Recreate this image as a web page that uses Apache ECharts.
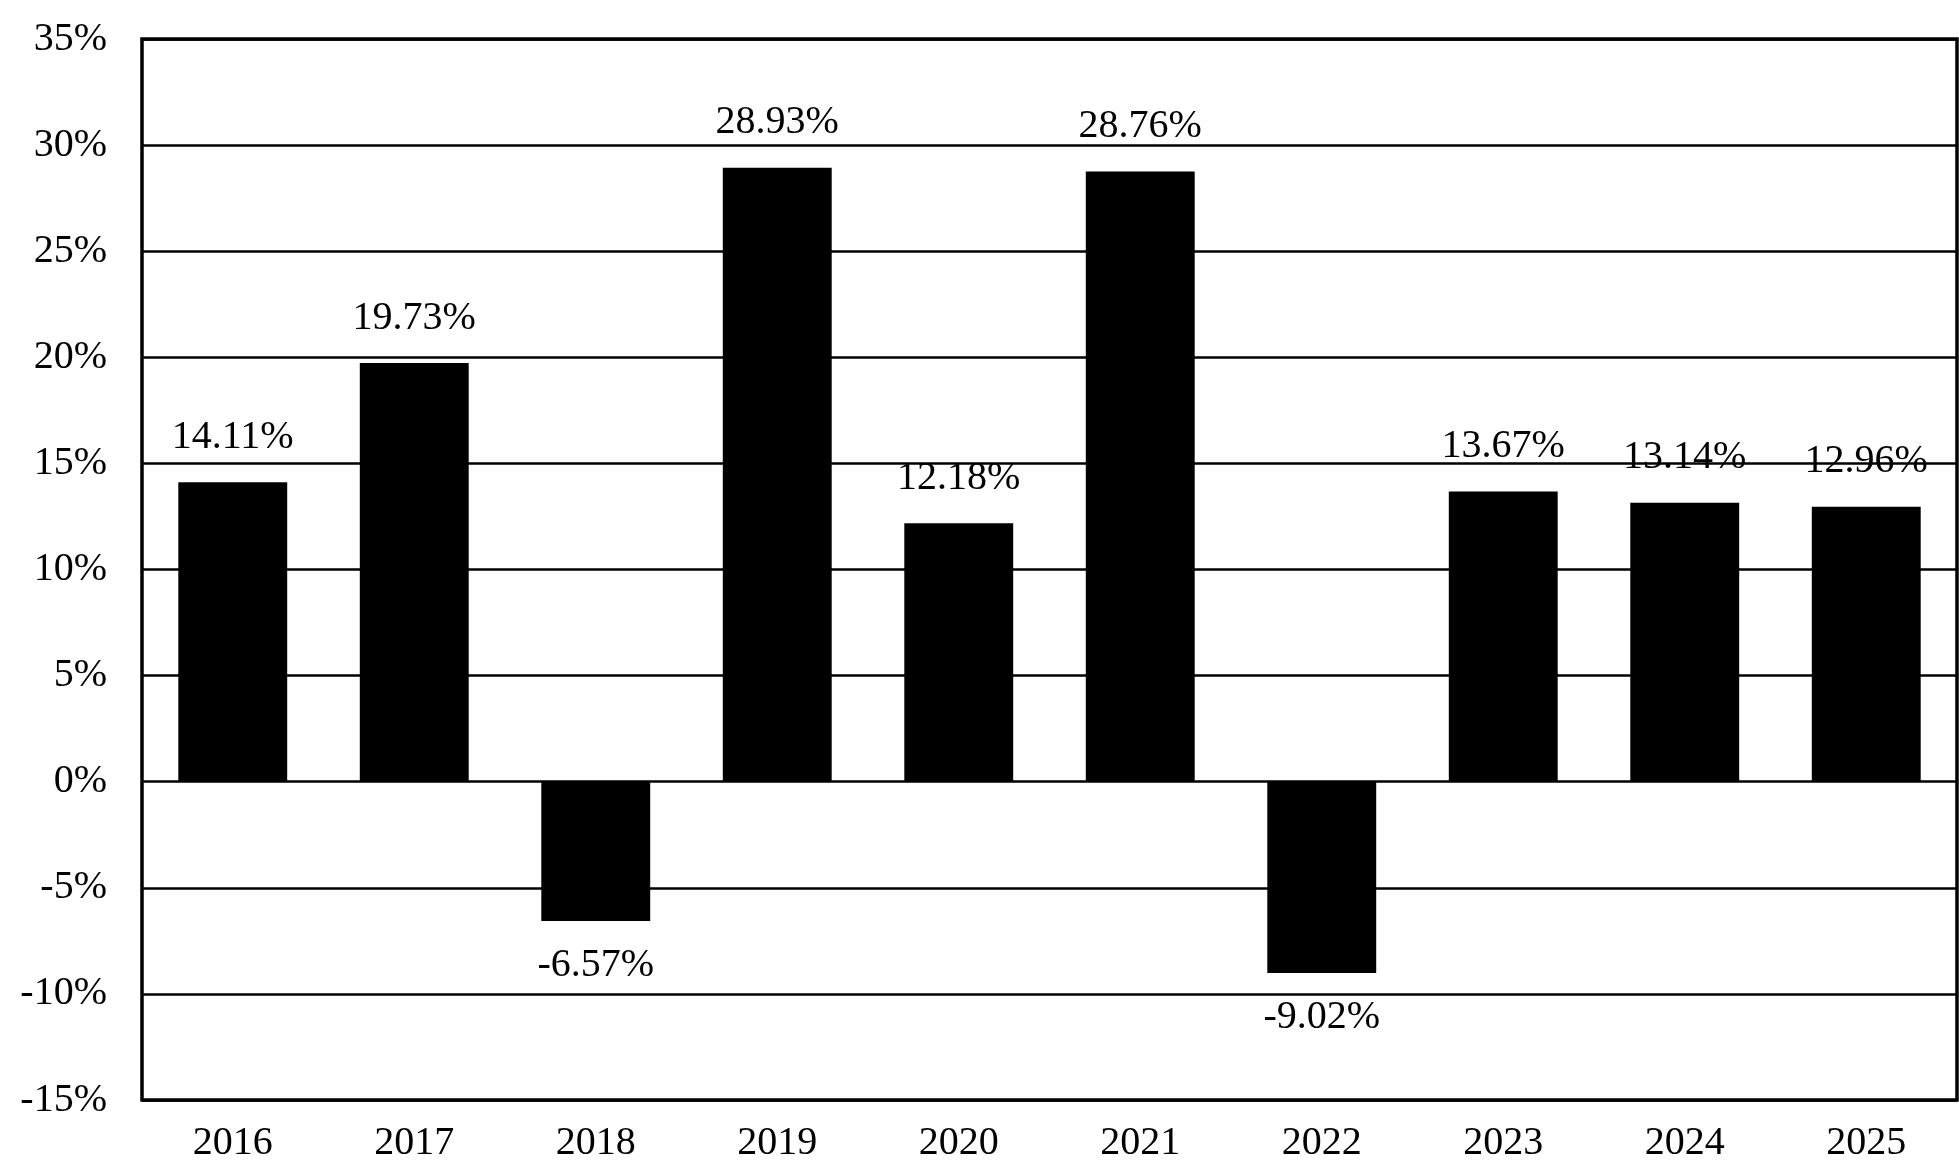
<!DOCTYPE html>
<html>
<head>
<meta charset="utf-8">
<script src="https://cdn.jsdelivr.net/npm/echarts@6/dist/echarts.min.js"></script>
<style>html,body{margin:0;padding:0;background:#fff;}#c{width:1959px;height:1168px;}</style>
</head>
<body>
<div id="c"></div>
<script>
var categories = ['2016','2017','2018','2019','2020','2021','2022','2023','2024','2025'];
var returns = [14.11, 19.73, -6.57, 28.93, 12.18, 28.76, -9.02, 13.67, 13.14, 12.96];
var yMin = -15, yMax = 35, yStep = 5;

var font = 'Liberation Serif';
var chart = echarts.init(document.getElementById('c'));
var barData = returns.map(function (v) {
  return {
    value: v,
    label: { position: v < 0 ? 'bottom' : 'top', distance: v < 0 ? 24 : 25 }
  };
});
chart.setOption({
  animation: false,
  backgroundColor: '#fff',
  grid: { left: 142, right: 2, top: 39, bottom: 68, show: true, borderColor: '#000', borderWidth: 3.5, backgroundColor: 'transparent', containLabel: false },
  xAxis: {
    type: 'category',
    data: categories,
    axisLine: { show: false, onZero: false },
    axisTick: { show: false },
    axisLabel: { color: '#000', fontFamily: font, fontSize: 40, margin: 23 },
    splitLine: { show: false }
  },
  yAxis: {
    type: 'value',
    min: yMin, max: yMax, interval: yStep,
    axisLine: { show: false },
    axisTick: { show: false },
    axisLabel: { color: '#000', fontFamily: font, fontSize: 40, margin: 35, formatter: '{value}%' },
    splitLine: { show: true, lineStyle: { color: '#000', width: 2.5 } }
  },
  series: [{
    type: 'bar',
    data: barData,
    barCategoryGap: '40%',
    itemStyle: { color: '#000' },
    label: {
      show: true,
      color: '#000',
      fontFamily: font,
      fontSize: 40,
      formatter: function (p) { return p.value.toFixed(2) + '%'; }
    }
  }]
});
</script>
</body>
</html>
